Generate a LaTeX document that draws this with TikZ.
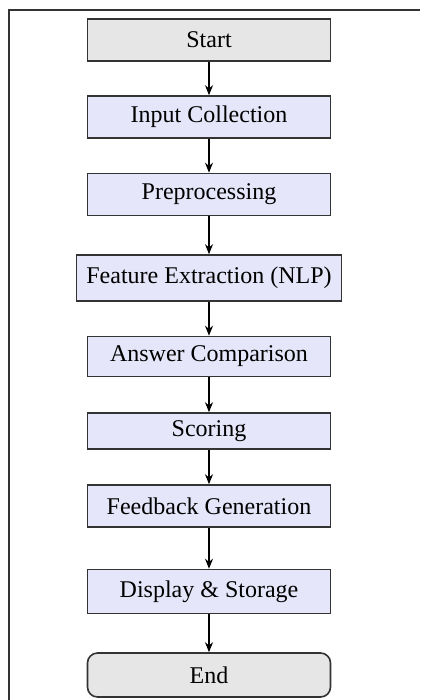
\documentclass[tikz,border=0pt]{standalone}
\usepackage{fontspec}
\setmainfont{Liberation Serif}
\usetikzlibrary{arrows.meta}
\definecolor{boxfill}{HTML}{E6E6FA}
\definecolor{endfill}{HTML}{E6E6E6}
\definecolor{edge}{HTML}{333333}
\tikzset{
  box/.style={draw=edge,line width=0.8pt,fill=boxfill,minimum width=121.5pt,minimum height=21pt,inner sep=2pt,font=\fontsize{12}{14}\selectfont},
  term/.style={box,fill=endfill},
  flow/.style={-{Stealth[length=5pt,width=4pt]},line width=0.6pt}
}
\begin{document}
\begin{tikzpicture}[x=0.5pt,y=-0.5pt]
\useasboundingbox (0,0) rectangle (420,700);
   \draw[line width=1pt,edge] (9,700) -- (9,10) -- (420,10);

   \node[term] at (209,40)  (Start) {Start};
   \node[box] at (209,117)  (Input) {Input Collection};
   \node[box] at (209,194.5)  (Prep) {Preprocessing};
   \node[box,minimum width=132.5pt,minimum height=23pt] at (209,278)  (Feat) {Feature Extraction (NLP)};
   \node[box,minimum height=20pt] at (209,356.5)  (Comp) {Answer Comparison};
   \node[box,minimum height=18pt] at (209,431)  (Score) {Scoring};
   \node[box] at (209,506)  (Feed) {Feedback Generation};
   \node[box,minimum height=22pt] at (209,591.5)  (Disp) {Display \& Storage};
   \node[term,rounded corners=5pt,minimum height=22pt] at (209,675)  (End) {End};

    % arrows
    \draw[flow] (Start) -- (Input);
    \draw[flow] (Input) -- (Prep);
    \draw[flow] (Prep) -- (Feat);
    \draw[flow] (Feat) -- (Comp);
    \draw[flow] (Comp) -- (Score);
    \draw[flow] (Score) -- (Feed);
    \draw[flow] (Feed) -- (Disp);
    \draw[flow] (Disp) -- (End);
\end{tikzpicture}
\end{document}
